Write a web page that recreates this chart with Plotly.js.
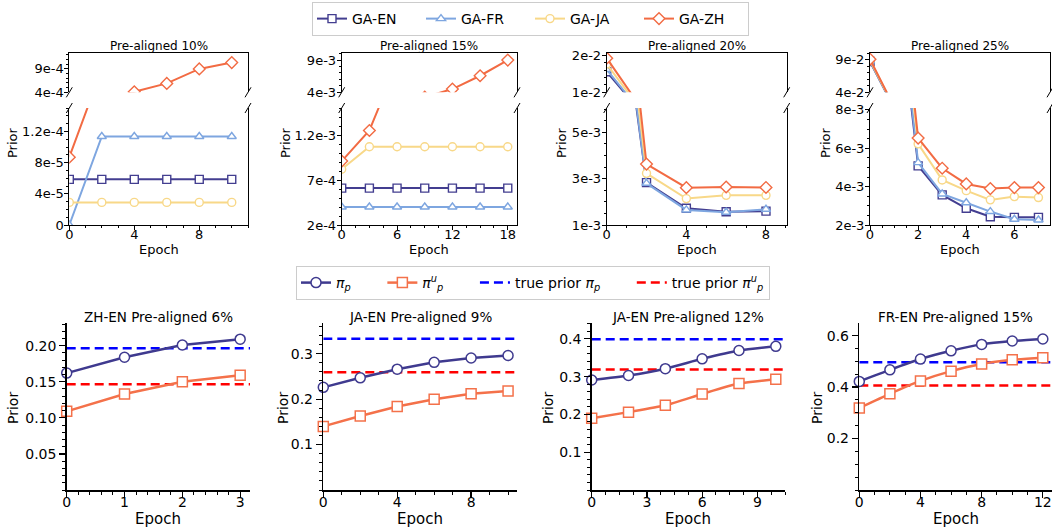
<!DOCTYPE html>
<html><head><meta charset="utf-8">
<script src="https://cdn.plot.ly/plotly-3.0.1.min.js"></script>
<style>html,body{margin:0;padding:0;background:#fff}</style>
</head><body><div id="chart" style="width:1052px;height:527px"></div>
<script>
// ---------------- DATA ----------------
const gaNames = ['GA-EN', 'GA-FR', 'GA-JA', 'GA-ZH'];

// Pre-aligned 10%
const epochs10 = [0, 2, 4, 6, 8, 10];
const gaEn10 = [5.85e-5, 5.85e-5, 5.85e-5, 5.85e-5, 5.85e-5, 5.85e-5];
const gaFr10 = [0, 1.135e-4, 1.135e-4, 1.135e-4, 1.135e-4, 1.135e-4];
const gaJa10 = [2.9e-5, 2.9e-5, 2.9e-5, 2.9e-5, 2.9e-5, 2.9e-5];
const gaZh10 = [8.7e-5, 2.0e-4, 4.1e-4, 5.9e-4, 9.0e-4, 1.035e-3];

// Pre-aligned 15%
const epochs15 = [0, 3, 6, 9, 12, 15, 18];
const gaEn15 = [6.1e-4, 6.1e-4, 6.1e-4, 6.1e-4, 6.1e-4, 6.1e-4, 6.1e-4];
const gaFr15 = [4.0e-4, 4.0e-4, 4.0e-4, 4.0e-4, 4.0e-4, 4.0e-4, 4.0e-4];
const gaJa15 = [8.2e-4, 1.07e-3, 1.07e-3, 1.07e-3, 1.07e-3, 1.07e-3, 1.07e-3];
const gaZh15 = [9.1e-4, 1.25e-3, 2.0e-3, 3.25e-3, 4.5e-3, 6.57e-3, 9.0e-3];

// Pre-aligned 20%
const epochs20 = [0, 2, 4, 6, 8];
const gaEn20 = [1.56e-2, 2.83e-3, 1.72e-3, 1.57e-3, 1.6e-3];
const gaFr20 = [1.62e-2, 2.8e-3, 1.65e-3, 1.55e-3, 1.68e-3];
const gaJa20 = [1.77e-2, 3.23e-3, 2.14e-3, 2.28e-3, 2.28e-3];
const gaZh20 = [1.93e-2, 3.63e-3, 2.61e-3, 2.64e-3, 2.62e-3];

// Pre-aligned 25%
const epochs25 = [0, 1, 2, 3, 4, 5, 6, 7];
const gaEn25 = [8.7e-2, 1.6e-2, 5.08e-3, 3.57e-3, 2.87e-3, 2.43e-3, 2.4e-3, 2.4e-3];
const gaFr25 = [8.8e-2, 1.65e-2, 5.25e-3, 3.62e-3, 3.16e-3, 2.7e-3, 2.3e-3, 2.26e-3];
const gaJa25 = [8.9e-2, 1.7e-2, 6.23e-3, 4.35e-3, 3.79e-3, 3.31e-3, 3.48e-3, 3.43e-3];
const gaZh25 = [9.05e-2, 1.8e-2, 6.53e-3, 4.96e-3, 4.14e-3, 3.9e-3, 3.95e-3, 3.95e-3];

// top tick labels
const top10LowVals = [0, 4e-5, 8e-5, 1.2e-4], top10LowText = ['0', '4e-5', '8e-5', '1.2e-4'];
const top10UpVals = [4e-4, 9e-4], top10UpText = ['4e-4', '9e-4'];
const top15LowVals = [2e-4, 7e-4, 1.2e-3], top15LowText = ['2e-4', '7e-4', '1.2e-3'];
const top15UpVals = [4e-3, 9e-3], top15UpText = ['4e-3', '9e-3'];
const top20LowVals = [1e-3, 3e-3, 5e-3], top20LowText = ['1e-3', '3e-3', '5e-3'];
const top20UpVals = [1e-2, 2e-2], top20UpText = ['1e-2', '2e-2'];
const top25LowVals = [2e-3, 4e-3, 6e-3, 8e-3], top25LowText = ['2e-3', '4e-3', '6e-3', '8e-3'];
const top25UpVals = [4e-2, 9e-2], top25UpText = ['4e-2', '9e-2'];
const top10XTicks = [0, 4, 8], top15XTicks = [0, 6, 12, 18], top20XTicks = [0, 4, 8], top25XTicks = [0, 2, 4, 6];

// Bottom row
const piNames = ['<i>π<sub>p</sub></i>', '<i>π<sup>u</sup><sub>p</sub></i>',
                 'true prior <i>π<sub>p</sub></i>', 'true prior <i>π<sup>u</sup><sub>p</sub></i>'];
const zhEnEpochs = [0, 1, 2, 3];
const zhEnPi = [0.162, 0.184, 0.201, 0.209];
const zhEnPiU = [0.109, 0.133, 0.150, 0.159];
const zhEnTrue = [0.1964, 0.1467];

const jaEn9Epochs = [0, 2, 4, 6, 8, 10];
const jaEn9Pi = [0.226, 0.247, 0.266, 0.281, 0.2905, 0.296];
const jaEn9PiU = [0.140, 0.163, 0.184, 0.200, 0.212, 0.218];
const jaEn9True = [0.333, 0.259];

const jaEn12Epochs = [0, 2, 4, 6, 8, 10];
const jaEn12Pi = [0.291, 0.303, 0.321, 0.347, 0.369, 0.380];
const jaEn12PiU = [0.190, 0.206, 0.224, 0.254, 0.2815, 0.293];
const jaEn12True = [0.399, 0.319];

const frEnEpochs = [0, 2, 4, 6, 8, 10, 12];
const frEnPi = [0.422, 0.467, 0.509, 0.541, 0.566, 0.579, 0.587];
const frEnPiU = [0.319, 0.374, 0.424, 0.462, 0.490, 0.506, 0.514];
const frEnTrue = [0.497, 0.406];

const bot6YVals = [0.05, 0.10, 0.15, 0.20], bot6YText = ['0.05', '0.10', '0.15', '0.20'];
const bot9YVals = [0.1, 0.2, 0.3], bot9YText = ['0.1', '0.2', '0.3'];
const bot12YVals = [0.1, 0.2, 0.3, 0.4], bot12YText = ['0.1', '0.2', '0.3', '0.4'];
const bot15YVals = [0.2, 0.4, 0.6], bot15YText = ['0.2', '0.4', '0.6'];
const bot6XTicks = [0, 1, 2, 3], bot9XTicks = [0, 4, 8], bot12XTicks = [0, 3, 6, 9], bot15XTicks = [0, 4, 8, 12];

// ---------------- STYLE / LAYOUT ----------------
const W = 1052, H = 527;
const FONT = 'DejaVu Sans, sans-serif';
const gaColors = ['#433E90', '#7EA6E0', '#F8D888', '#F26B43'];
const gaSymbols = ['square', 'triangle-up', 'circle', 'diamond'];
const piColors = ['#3F3A8F', '#F4714A', '#0000FF', '#FF0000'];
const px = p => p / W, py = p => 1 - p / H;
const aid = n => (n === 1 ? '' : String(n));
const PAD = '&nbsp;&nbsp;&nbsp;&nbsp;&nbsp;&nbsp;';

const topPanels = [
  {x0: 69.3, x1: 248, xr: [0, 11], xt: top10XTicks, xm: 1, lr: [0, 1.5e-4], lv: top10LowVals, lt: top10LowText, lm: 1e-5,
   ur: [4e-4, 1.24e-3], uv: top10UpVals, ut: top10UpText, um: 1e-4, title: 'Pre-aligned 10%', ep: epochs10,
   ser: [gaEn10, gaFr10, gaJa10, gaZh10], priorX: 12},
  {x0: 341.7, x1: 517, xr: [0, 19], xt: top15XTicks, xm: 1.5, lr: [2e-4, 1.5e-3], lv: top15LowVals, lt: top15LowText, lm: 1e-4,
   ur: [4e-3, 1.01e-2], uv: top15UpVals, ut: top15UpText, um: 1e-3, title: 'Pre-aligned 15%', ep: epochs15,
   ser: [gaEn15, gaFr15, gaJa15, gaZh15], priorX: 285},
  {x0: 606.7, x1: 786.7, xr: [0, 9.04], xt: top20XTicks, xm: 1, lr: [1e-3, 6.05e-3], lv: top20LowVals, lt: top20LowText, lm: 5e-4,
   ur: [1e-2, 2.07e-2], uv: top20UpVals, ut: top20UpText, um: 2e-3, title: 'Pre-aligned 20%', ep: epochs20,
   ser: [gaEn20, gaFr20, gaJa20, gaZh20], priorX: 561},
  {x0: 870, x1: 1050, xr: [0, 7.48], xt: top25XTicks, xm: 0.5, lr: [2e-3, 8.1e-3], lv: top25LowVals, lt: top25LowText, lm: 5e-4,
   ur: [4e-2, 0.1], uv: top25UpVals, ut: top25UpText, um: 1e-2, title: 'Pre-aligned 25%', ep: epochs25,
   ser: [gaEn25, gaFr25, gaJa25, gaZh25], priorX: 825}
];
const lowTop = 108, lowBot = 225, upTop = 53, upBot = 92.3;

const botPanels = [
  {x0: 66.7, x1: 250, xr: [0, 3.17], xt: bot6XTicks, xm: 0.2, yr: [0, 0.231], yv: bot6YVals, yt: bot6YText, ym: 0.01,
   title: 'ZH-EN Pre-aligned 6%', ep: zhEnEpochs, pi: zhEnPi, piu: zhEnPiU, tr: zhEnTrue, priorX: 13, shape: 'linear'},
  {x0: 323.3, x1: 517.3, xr: [0, 10.5], xt: bot9XTicks, xm: 1, yr: [0, 0.367], yv: bot9YVals, yt: bot9YText, ym: 0.02,
   title: 'JA-EN Pre-aligned 9%', ep: jaEn9Epochs, pi: jaEn9Pi, piu: jaEn9PiU, tr: jaEn9True, priorX: 283, shape: 'linear'},
  {x0: 591.7, x1: 785, xr: [0, 10.5], xt: bot12XTicks, xm: 0.75, yr: [0, 0.441], yv: bot12YVals, yt: bot12YText, ym: 0.02,
   title: 'JA-EN Pre-aligned 12%', ep: jaEn12Epochs, pi: jaEn12Pi, piu: jaEn12PiU, tr: jaEn12True, priorX: 548, shape: 'spline'},
  {x0: 859.3, x1: 1052, xr: [0, 12.6], xt: bot15XTicks, xm: 1, yr: [0, 0.648], yv: bot15YVals, yt: bot15YText, ym: 0.05,
   title: 'FR-EN Pre-aligned 15%', ep: frEnEpochs, pi: frEnPi, piu: frEnPiU, tr: frEnTrue, priorX: 817, shape: 'spline'}
];
const botTop = 323.3, botBot = 490;

const traces = [];
const layout = {
  width: W, height: H, margin: {l: 0, r: 0, t: 0, b: 0},
  paper_bgcolor: 'white', plot_bgcolor: 'white',
  font: {family: FONT, color: 'black', size: 13},
  showlegend: true,
  legend: {orientation: 'h', x: px(312), xanchor: 'left', y: py(2), yanchor: 'top',
           bordercolor: '#cccccc', borderwidth: 1, bgcolor: 'white', font: {size: 14, family: FONT},
           entrywidth: 64, entrywidthmode: 'pixels', itemwidth: 30, tracegroupgap: 0},
  legend2: {orientation: 'h', x: px(296), xanchor: 'left', y: py(266), yanchor: 'top',
            bordercolor: '#cccccc', borderwidth: 1, bgcolor: 'white', font: {size: 14, family: FONT}, itemwidth: 30},
  annotations: [], shapes: []
};

function ax(base) {
  return Object.assign({showgrid: false, zeroline: false, showline: true, linecolor: 'black', linewidth: 1,
    ticks: 'outside', ticklen: 4, tickwidth: 1, tickcolor: 'black', tickmode: 'array', fixedrange: true}, base);
}
function ann(text, x, y, size, angle) {
  layout.annotations.push({text: text, x: px(x), y: py(y), xref: 'paper', yref: 'paper', showarrow: false,
    xanchor: 'center', yanchor: 'middle', font: {size: size, family: FONT, color: 'black'}, textangle: angle || 0});
}

topPanels.forEach((p, i) => {
  const nl = 2 * i + 1, nu = 2 * i + 2;
  const dom = [px(p.x0), px(p.x1)];
  layout['xaxis' + nl] = ax({domain: dom, range: p.xr, anchor: 'y' + aid(nl), tickvals: p.xt, ticktext: p.xt.map(String),
    tickfont: {size: 13}, ticklabelstandoff: -7,
    minor: {dtick: p.xm, tick0: 0, ticks: 'outside', ticklen: 2, tickcolor: 'black'}});
  layout['xaxis' + nu] = ax({domain: dom, range: p.xr, anchor: 'y' + nu, side: 'top', ticks: '', showticklabels: false});
  layout['yaxis' + nl] = ax({domain: [py(lowBot), py(lowTop)], range: p.lr, anchor: 'x' + aid(nl), mirror: true,
    tickvals: p.lv, ticktext: p.lt, tickfont: {size: 13}, ticklabelstandoff: -2,
    minor: {dtick: p.lm, tick0: 0, ticks: 'outside', ticklen: 2, tickcolor: 'black'}});
  layout['yaxis' + nu] = ax({domain: [py(upBot), py(upTop)], range: p.ur, anchor: 'x' + nu, mirror: true,
    tickvals: p.uv, ticktext: p.ut, tickfont: {size: 13}, ticklabelstandoff: -2,
    minor: {dtick: p.um, tick0: 0, ticks: 'outside', ticklen: 2, tickcolor: 'black'}});
  p.ser.forEach((vals, s) => {
    [nl, nu].forEach((n, k) => {
      traces.push({x: p.ep, y: vals, xaxis: 'x' + aid(n), yaxis: 'y' + aid(n), type: 'scatter', mode: 'lines+markers',
        name: gaNames[s], legendgroup: gaNames[s], legend: 'legend', showlegend: i === 0 && k === 0,
        line: {color: gaColors[s], width: 2},
        marker: {symbol: gaSymbols[s], size: s === 3 ? 9 : 8, color: 'white', line: {color: gaColors[s], width: 1.4}},
        cliponaxis: true, hoverinfo: 'skip'});
    });
  });
  // break marks
  const wpx = p.x1 - p.x0, lh = lowBot - lowTop, uh = upBot - upTop;
  [0, 1].forEach(xd => {
    layout.shapes.push({type: 'line', xref: 'x' + aid(nl) + ' domain', yref: 'y' + aid(nl) + ' domain',
      x0: xd - 3 / wpx, x1: xd + 3 / wpx, y0: 1 - 5 / lh, y1: 1 + 5 / lh, line: {color: 'black', width: 1}});
    layout.shapes.push({type: 'line', xref: 'x' + nu + ' domain', yref: 'y' + nu + ' domain',
      x0: xd - 3 / wpx, x1: xd + 3 / wpx, y0: -5 / uh, y1: 5 / uh, line: {color: 'black', width: 1}});
  });
  ann(p.title, (p.x0 + p.x1) / 2, 46, 12);
  ann('Epoch', (p.x0 + p.x1) / 2, 249.5, 13);
  ann('Prior', p.priorX, 143, 13, -90);
});

botPanels.forEach((p, i) => {
  const n = 9 + i;
  layout['xaxis' + n] = ax({domain: [px(p.x0), px(p.x1)], range: p.xr, anchor: 'y' + n, tickvals: p.xt,
    ticktext: p.xt.map(String), tickfont: {size: 14}, linewidth: 1.5, ticklen: 6, tickwidth: 1.3, ticklabelstandoff: -7,
    minor: {dtick: p.xm, tick0: 0, ticks: 'outside', ticklen: 3, tickwidth: 1, tickcolor: 'black'}});
  layout['yaxis' + n] = ax({domain: [py(botBot), py(botTop)], range: p.yr, anchor: 'x' + n, tickvals: p.yv,
    ticktext: p.yt, tickfont: {size: 14}, linewidth: 1.5, ticklen: 6, tickwidth: 1.3,
    minor: {dtick: p.ym, tick0: 0, ticks: 'outside', ticklen: 3, tickwidth: 1, tickcolor: 'black'}});
  const xa = 'x' + n, ya = 'y' + n;
  // true prior dashed lines across the axis range
  p.tr.forEach((v, k) => {
    traces.push({x: p.xr, y: [v, v], xaxis: xa, yaxis: ya, type: 'scatter', mode: 'lines',
      name: piNames[2 + k] + (k === 0 ? PAD : ''), legendgroup: piNames[2 + k], legend: 'legend2', legendrank: 3 + k,
      showlegend: i === 0, line: {color: piColors[2 + k], width: 2.5, dash: '9px,5px'}, hoverinfo: 'skip'});
  });
  [[p.pi, 'circle'], [p.piu, 'square']].forEach((d, k) => {
    traces.push({x: p.ep, y: d[0], xaxis: xa, yaxis: ya, type: 'scatter', mode: 'lines+markers',
      name: piNames[k] + PAD, legendgroup: piNames[k], legend: 'legend2', legendrank: 1 + k, showlegend: i === 0,
      line: {color: piColors[k], width: 2.5, shape: p.shape, smoothing: 0.6},
      marker: {symbol: d[1], size: 10, color: 'white', line: {color: piColors[k], width: 1.5}},
      cliponaxis: false, hoverinfo: 'skip'});
  });
  ann(p.title, (p.x0 + p.x1) / 2, 316.5, 13.5);
  ann('Epoch', (p.x0 + p.x1) / 2, 518.5, 15);
  ann('Prior', p.priorX, 408, 14, -90);
});

Plotly.newPlot('chart', traces, layout, {staticPlot: true, displayModeBar: false});
</script>
</body></html>
